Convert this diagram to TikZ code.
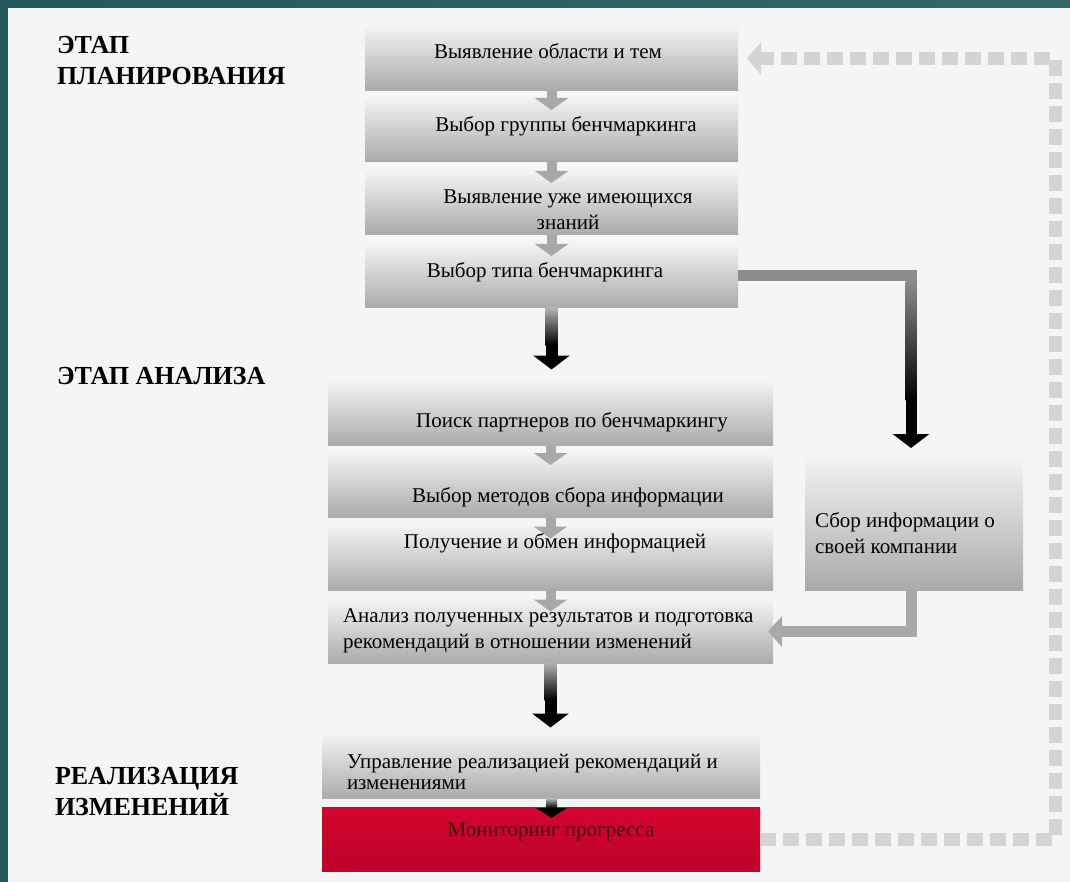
\documentclass[tikz,border=0pt]{standalone}
\usepackage{fontspec}
\setmainfont{Liberation Serif}
\usetikzlibrary{arrows.meta}
\definecolor{framegreen}{RGB}{36,88,92}
\definecolor{framegreen2}{RGB}{52,104,104}
\definecolor{paper}{RGB}{244,246,246}
\definecolor{boxtop}{RGB}{243,243,243}
\definecolor{boxbot}{RGB}{170,170,172}
\definecolor{linkgray}{RGB}{168,168,168}
\definecolor{conngray}{RGB}{140,140,140}
\definecolor{dashgray}{RGB}{210,212,214}
\definecolor{monred}{RGB}{212,4,46}
\definecolor{montext}{RGB}{70,10,15}
\begin{document}
\begin{tikzpicture}[x=1pt, y=-1pt]
\tikzstyle{every node}=[inner sep=0, outer sep=0]
\tikzstyle{stage}=[anchor=north west, align=left, font=\bfseries\fontsize{26}{31}\selectfont]
\tikzstyle{box}=[rectangle, minimum height=64pt, top color=boxtop, bottom color=boxbot]
\tikzstyle{txt}=[align=center, font=\fontsize{21}{26}\selectfont]
\tikzstyle{link}=[draw=linkgray, line width=10pt, -{Triangle[width=33pt,length=12pt]}]
\tikzstyle{bigarrow}=[draw=black, line width=12pt, -{Triangle[width=36pt,length=14pt]}]
\tikzstyle{feedback}=[draw=dashgray, line width=13pt, dash pattern=on 16pt off 7pt, -{Triangle[width=32pt,length=14pt]}]
\useasboundingbox (0,0) rectangle (1070,882);
\fill[paper] (0,0) rectangle (1070,882);
\shade[left color=framegreen, right color=framegreen2] (0,0) rectangle (1070,8);
\fill[framegreen] (0,0) rectangle (8,882);
% stages
\node[stage] (s1) at (57,36) {ЭТАП\\ПЛАНИРОВАНИЯ};
\node[stage] (s2) at (57,367) {ЭТАП АНАЛИЗА};
\node[stage] (s3) at (55,767) {РЕАЛИЗАЦИЯ\\ИЗМЕНЕНИЙ};
% boxes
\node[box, minimum width=373pt] (b1) at (551.5,58.5) {};
\node[box, minimum width=373pt] (b2) at (551.5,130) {};
\node[box, minimum width=373pt] (b3) at (551.5,203) {};
\node[box, minimum width=373pt] (b4) at (551.5,276) {};
\node[box, minimum width=445pt] (b5) at (550.5,413.5) {};
\node[box, minimum width=445pt] (b6) at (550.5,485) {};
\node[box, minimum width=445pt] (b7) at (550.5,558.5) {};
\node[box, minimum width=445pt] (b8) at (550.5,631.5) {};
\node[box, minimum width=218pt, minimum height=133pt] (b9) at (914,523.5) {};
\node[box, minimum width=438pt] (b10) at (541,766.5) {};
\node[box, minimum width=438pt, top color=monred, bottom color=monred!90!black] (b11) at (541,839) {};
% arrows
\draw[link] (b1.south) -- ([yshift=-12pt]b2.north);
\draw[link] (b2.south) -- ([yshift=-12pt]b3.north);
\draw[link] (b3.south) -- ([yshift=-12pt]b4.north);
\draw[link] (b5.south) -- ([yshift=-12pt]b6.north);
\draw[link] (b6.south) -- ([yshift=-12pt]b7.north);
\draw[link] (b7.south) -- ([yshift=-12pt]b8.north);
\draw[bigarrow] (b4.south) -- ([yshift=12pt]b4.south |- b5.north);
\shade[top color=gray!60, bottom color=black] (545.5,308) rectangle (557.5,345);
\draw[bigarrow] (b8.south) -- ([yshift=7pt]b8.south |- b10.north);
\shade[top color=gray!60, bottom color=black] (544.5,663) rectangle (556.5,700);
\draw[bigarrow, line width=11pt, -{Triangle[width=30pt,length=10pt]}] ([xshift=1pt]b8.south |- b10.south) -- ([xshift=1pt,yshift=-11pt]b8.south |- b11.north);
\shade[top color=gray!50, bottom color=black] (546,798) rectangle (557,808);
\draw[bigarrow, line width=11pt] (b4.east) -| ([xshift=-3pt,yshift=9pt]b9.north);
\fill[conngray] (738,270.5) rectangle (916.5,281.5);
\shade[top color=conngray, bottom color=black] (905.5,281.5) rectangle (916.5,400);
\draw[link, line width=11pt, -{Triangle[width=30pt,length=14pt]}] ([xshift=-3pt]b9.south) |- ([xshift=-5pt]b8.east);
\coordinate (fb) at (1055,58.5);
\draw[feedback] (b11.east) -| (fb) -- ([xshift=9pt]b1.east);
% texts
\node[txt] (t1) at (548,51) {Выявление области и тем};
\node[txt] (t2) at (566,126) {Выбор группы бенчмаркинга};
\node[txt] (t3) at (568,210) {Выявление уже имеющихся\\знаний};
\node[txt] (t4) at (545,272) {Выбор типа бенчмаркинга};
\node[txt] (t5) at (572,422) {Поиск партнеров по бенчмаркингу};
\node[txt] (t6) at (568,497) {Выбор методов сбора информации};
\node[txt] (t7) at (555,543) {Получение и обмен информацией};
\node[txt, anchor=west, align=left] (t8) at (343,631) {Анализ полученных результатов и подготовка\\рекомендаций в отношении изменений};
\node[txt, anchor=west, align=left] (t9) at (815,533) {Сбор информации о\\своей компании};
\node[txt, anchor=west, align=left, font=\fontsize{21}{21}\selectfont] (t10) at (347,772) {Управление реализацией рекомендаций и\\изменениями};
\node[txt, text=montext] (t11) at (551,832) {Мониторинг прогресса};
\end{tikzpicture}
\end{document}
